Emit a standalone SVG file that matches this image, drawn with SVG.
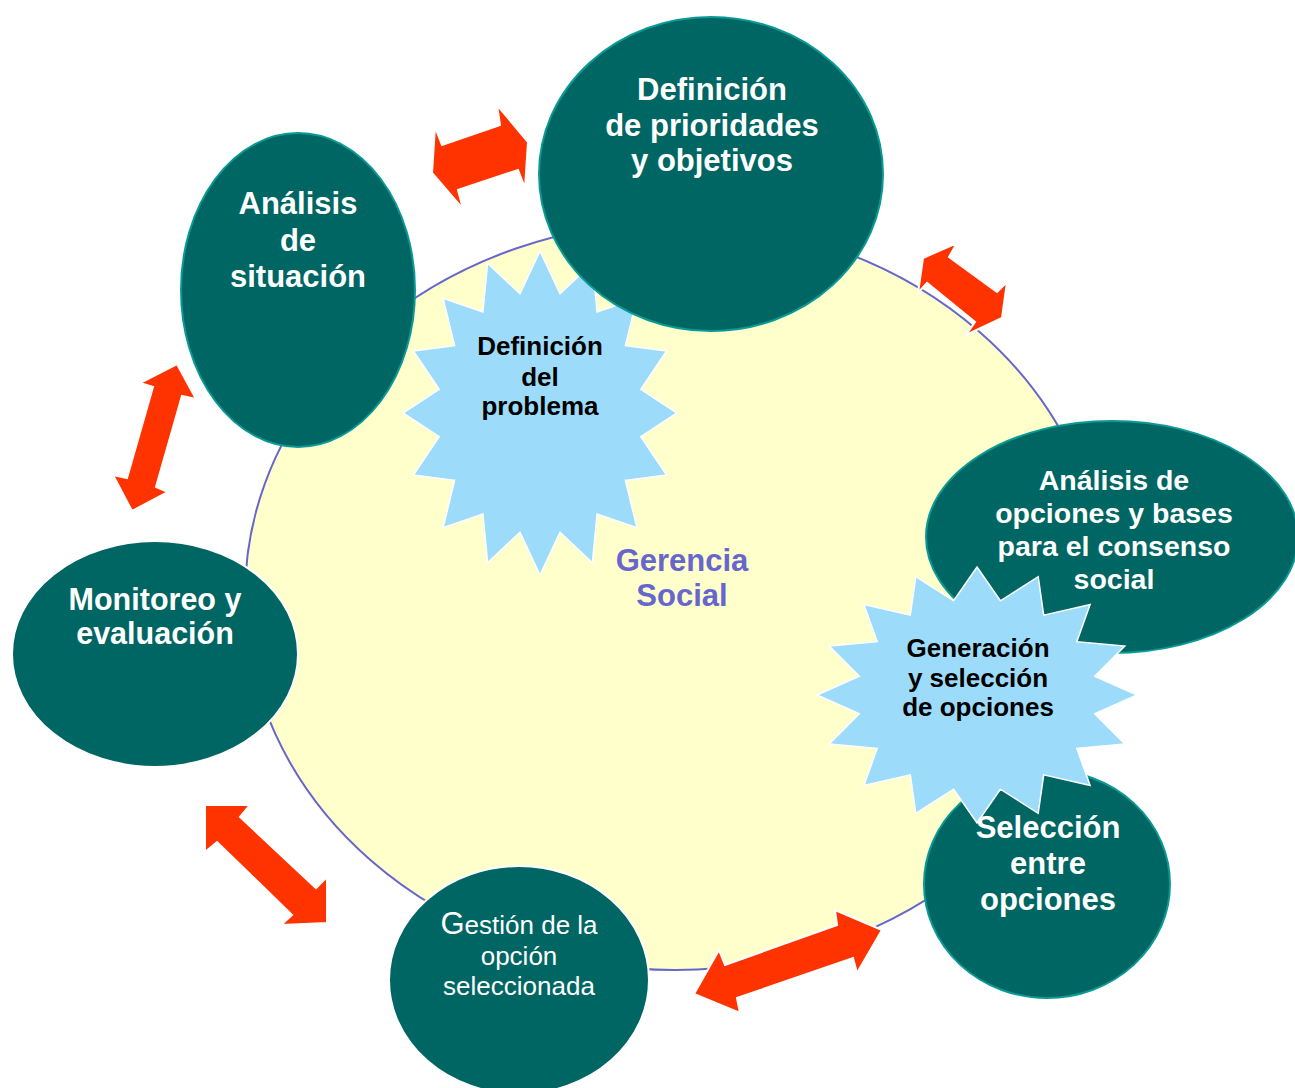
<svg xmlns="http://www.w3.org/2000/svg" width="1295" height="1088" viewBox="0 0 1295 1088">
<style>
.node{fill:#006663;stroke:#0a9a96;stroke-width:2}
.nodew{fill:#006663;stroke:#ffffff;stroke-width:2}
.star{fill:#9cdcfa;stroke:#ffffff;stroke-width:1.5}
.arrow{fill:#ff3300;stroke:#ffffff;stroke-width:2;stroke-linejoin:miter}
.wt{font-family:"Liberation Sans",Arial,sans-serif;font-weight:bold;fill:#ffffff;text-anchor:middle}
.bt{font-family:"Liberation Sans",Arial,sans-serif;font-weight:bold;fill:#000000;text-anchor:middle;font-size:26px}
.gt{font-family:"Liberation Sans",Arial,sans-serif;font-weight:bold;fill:#6666cc;text-anchor:middle;font-size:31px}
.rt{font-family:"Liberation Sans",Arial,sans-serif;fill:#ffffff;text-anchor:middle;font-size:26px}
</style>
<rect width="1295" height="1088" fill="#ffffff"/>
<g id="gerencia-social">
<ellipse cx="675" cy="596" rx="430" ry="374" fill="#ffffcc" stroke="#6666cc" stroke-width="2"/>
<text class="gt" x="682" y="571">Gerencia</text>
<text class="gt" x="682" y="606">Social</text>
</g>
<g id="connectors">
<polygon class="arrow" points="435,127 442,145 500,125 497,105 528,142 525,188 518,170 458,190 463,209 432,173"/>
<polygon class="arrow" points="923,258 957,243 949,257 997,292 1007,282 1002,318 966,335 975,322 927,283 918,293"/>
<polygon class="arrow" points="177,364 196,399 182,396 156,487 168,492 132,511 113,475 127,478 153,387 140,383"/>
<polygon class="arrow" points="205,805 250,805 240,817 316,888 327,877 327,923 281,925 292,915 217,842 205,852"/>
<polygon class="arrow" points="694,994 719,950 725,965 837,925 835,910 882,930 857,973 853,958 737,998 740,1013"/>
</g>
<g id="definicion-problema">
<polygon class="star" points="540,251 560,293.8 592.4,263.3 597.1,312 636.9,298.4 625.4,345.5 666.6,351 640.8,389.3 677,413 640.8,436.7 666.6,475 625.4,480.5 636.9,527.6 597.1,514 592.4,562.7 560,532.2 540,575 520,532.2 487.6,562.7 482.9,514 443.1,527.6 454.6,480.5 413.4,475 439.2,436.7 403,413 439.2,389.3 413.4,351 454.6,345.5 443.1,298.4 482.9,312 487.6,263.3 520,293.8"/>
<text class="bt" x="540" y="355">Definición</text>
<text class="bt" x="540" y="386">del</text>
<text class="bt" x="540" y="415">problema</text>
</g>
<g id="definicion-prioridades">
<ellipse class="node" cx="711" cy="174" rx="172" ry="157"/>
<text class="wt" font-size="31" x="712" y="100">Definición</text>
<text class="wt" font-size="31" x="712" y="136">de prioridades</text>
<text class="wt" font-size="31" x="712" y="171">y objetivos</text>
</g>
<g id="analisis-situacion">
<ellipse class="node" cx="298" cy="290" rx="117" ry="157"/>
<text class="wt" font-size="31" x="298" y="214">Análisis</text>
<text class="wt" font-size="31" x="298" y="251">de</text>
<text class="wt" font-size="31" x="298" y="287">situación</text>
</g>
<g id="monitoreo-evaluacion">
<ellipse class="nodew" cx="155" cy="654" rx="143" ry="113"/>
<text class="wt" font-size="30.5" x="155" y="610">Monitoreo y</text>
<text class="wt" font-size="30.5" x="155" y="644">evaluación</text>
</g>
<g id="gestion-opcion">
<ellipse class="nodew" cx="519" cy="980" rx="130" ry="114"/>
<text class="rt" x="519" y="934"><tspan font-size="31">G</tspan>estión de la</text>
<text class="rt" x="519" y="965">opción</text>
<text class="rt" x="519" y="995">seleccionada</text>
</g>
<g id="analisis-opciones">
<ellipse class="node" cx="1112" cy="537" rx="186" ry="116"/>
<text class="wt" font-size="28.5" x="1114" y="490">Análisis de</text>
<text class="wt" font-size="28.5" x="1114" y="523">opciones y bases</text>
<text class="wt" font-size="28.5" x="1114" y="556">para el consenso</text>
<text class="wt" font-size="28.5" x="1114" y="589">social</text>
</g>
<g id="seleccion-opciones">
<ellipse class="node" cx="1047" cy="884" rx="123" ry="114"/>
</g>
<g id="generacion-seleccion">
<polygon class="star" points="977,567 1000.4,600.8 1038.2,576.7 1043.7,615.2 1090.1,604.5 1076.8,641.7 1124.8,646 1094.7,676.3 1137,695 1094.7,713.7 1124.8,744 1076.8,748.3 1090.1,785.5 1043.7,774.8 1038.2,813.3 1000.4,789.2 977,823 953.6,789.2 915.8,813.3 910.3,774.8 863.9,785.5 877.2,748.3 829.2,744 859.3,713.7 817,695 859.3,676.3 829.2,646 877.2,641.7 863.9,604.5 910.3,615.2 915.8,576.7 953.6,600.8"/>
<text class="bt" x="978" y="657">Generación</text>
<text class="bt" x="978" y="687">y selección</text>
<text class="bt" x="978" y="716">de opciones</text>
</g>
<g id="seleccion-opciones-label">
<text class="wt" font-size="31" x="1048" y="838">Selección</text>
<text class="wt" font-size="31" x="1048" y="874">entre</text>
<text class="wt" font-size="31" x="1048" y="910">opciones</text>
</g>
</svg>
